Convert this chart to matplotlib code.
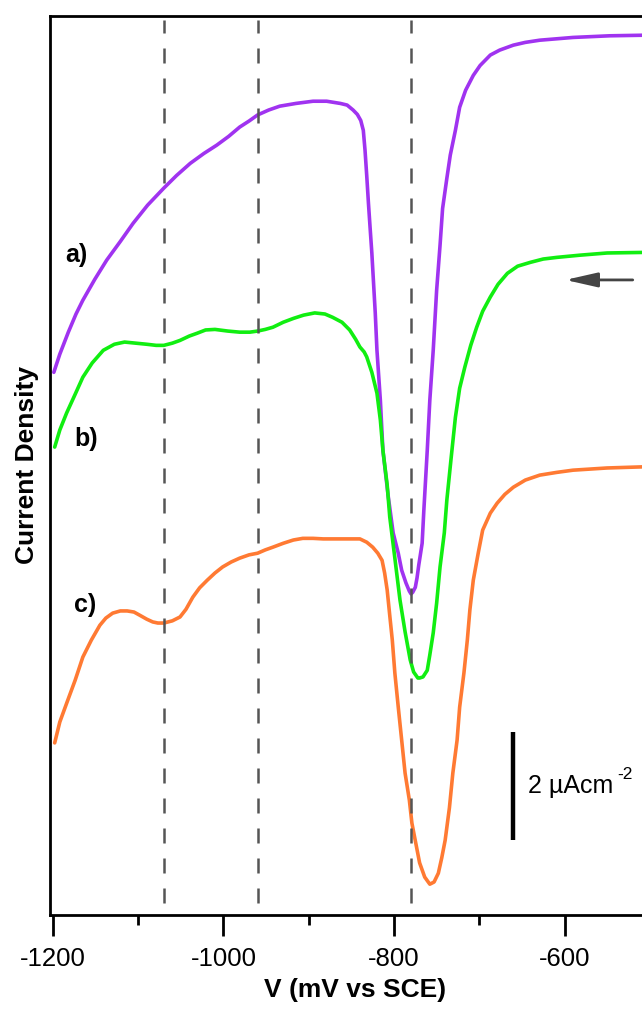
import matplotlib
matplotlib.use("Agg")
import matplotlib.pyplot as plt

plt.rcParams['font.family'] = ['Liberation Sans', 'DejaVu Sans']
plt.rcParams['axes.unicode_minus'] = False

# curve a) (purple)
volt_a = [-1199, -1192, -1182, -1173, -1165, -1151, -1137, -1121, -1106, -1089,
          -1070, -1055, -1039, -1023, -1008, -994, -981, -970, -960, -947,
          -934, -915, -895, -879, -863, -855, -848, -843, -839, -836,
          -834, -832, -830, -828, -826, -822, -820, -816, -813, -807,
          -801, -795, -791, -786, -782, -780, -778, -775, -773, -771,
          -767, -765, -761, -758, -754, -750, -746, -743, -738, -734,
          -728, -723, -716, -707, -699, -687, -676, -660, -646, -629,
          -590, -547, -509]
cur_a = [9.87, 10.20, 10.60, 10.93, 11.18, 11.56, 11.91, 12.25, 12.58, 12.91,
         13.22, 13.45, 13.67, 13.85, 14.0, 14.16, 14.33, 14.44, 14.55, 14.64,
         14.71, 14.76, 14.80, 14.80, 14.76, 14.73, 14.64, 14.56, 14.45, 14.27,
         13.91, 13.45, 12.95, 12.49, 12.04, 10.95, 10.27, 9.36, 8.45, 7.64,
         6.95, 6.58, 6.27, 6.04, 5.89, 5.84, 5.87, 5.96, 6.13, 6.36,
         6.76, 7.36, 8.45, 9.36, 10.27, 11.36, 12.18, 12.85, 13.4, 13.82,
         14.27, 14.69, 15.0, 15.27, 15.45, 15.64, 15.73, 15.82, 15.87, 15.91,
         15.96, 15.99, 16.0]

# curve b) (green)
volt_b = [-1198, -1192, -1184, -1174, -1165, -1154, -1141, -1128, -1116, -1103,
          -1090, -1079, -1070, -1060, -1051, -1040, -1031, -1021, -1010, -995,
          -981, -969, -960, -951, -942, -930, -918, -906, -893, -881,
          -872, -861, -852, -845, -840, -835, -832, -826, -820, -816,
          -813, -808, -805, -799, -793, -787, -781, -777, -772, -770,
          -766, -761, -758, -754, -750, -746, -741, -738, -733, -728,
          -723, -717, -710, -703, -696, -687, -678, -667, -655, -640,
          -625, -609, -582, -550, -509]
cur_b = [8.51, 8.82, 9.13, 9.47, 9.78, 10.04, 10.27, 10.38, 10.42, 10.40,
         10.38, 10.36, 10.36, 10.40, 10.45, 10.53, 10.58, 10.64, 10.65, 10.62,
         10.60, 10.60, 10.62, 10.65, 10.69, 10.78, 10.85, 10.91, 10.95, 10.93,
         10.87, 10.78, 10.64, 10.47, 10.33, 10.24, 10.15, 9.87, 9.49, 9.0,
         8.45, 7.82, 7.24, 6.49, 5.73, 5.15, 4.64, 4.42, 4.31, 4.31,
         4.33, 4.45, 4.73, 5.13, 5.67, 6.33, 6.95, 7.55, 8.31, 9.05,
         9.58, 9.96, 10.36, 10.69, 10.98, 11.24, 11.47, 11.67, 11.80, 11.87,
         11.93, 11.96, 12.0, 12.04, 12.05]

# curve c) (orange)
volt_c = [-1198, -1192, -1184, -1174, -1165, -1155, -1145, -1138, -1130, -1121,
          -1113, -1105, -1098, -1090, -1083, -1077, -1070, -1060, -1051, -1044,
          -1036, -1028, -1019, -1010, -1001, -991, -981, -970, -960, -951,
          -942, -930, -918, -907, -895, -883, -872, -856, -840, -832,
          -825, -819, -814, -811, -808, -805, -802, -799, -795, -791,
          -787, -782, -779, -774, -770, -764, -758, -753, -748, -744,
          -740, -735, -731, -726, -723, -718, -714, -711, -707, -701,
          -696, -687, -679, -670, -660, -646, -629, -609, -590, -550,
          -509]
cur_c = [3.13, 3.51, 3.85, 4.27, 4.69, 5.0, 5.27, 5.40, 5.49, 5.53,
         5.53, 5.51, 5.45, 5.38, 5.33, 5.31, 5.31, 5.35, 5.42, 5.56,
         5.78, 5.95, 6.09, 6.22, 6.33, 6.42, 6.49, 6.55, 6.58, 6.64,
         6.69, 6.76, 6.82, 6.85, 6.85, 6.84, 6.84, 6.84, 6.84, 6.78,
         6.69, 6.58, 6.45, 6.22, 5.91, 5.45, 5.0, 4.40, 3.78, 3.18,
         2.58, 2.09, 1.67, 1.27, 0.95, 0.69, 0.56, 0.60, 0.76, 1.04,
         1.36, 1.95, 2.58, 3.18, 3.78, 4.40, 5.0, 5.55, 6.09, 6.60,
         7.0, 7.31, 7.49, 7.65, 7.78, 7.91, 8.0, 8.05, 8.09, 8.13,
         8.15]

peak_lines = [-1070, -960, -780]
labels = ['a)', 'b)', 'c)']
label_pos = [(-1172, 12.0), (-1161, 8.65), (-1162, 5.64)]
colors = ['#a033f0', '#11ee11', '#ff7a33']

fig = plt.figure(figsize=(6.42, 10.10), dpi=100)
ax = fig.add_axes([50 / 642, 1 - 915 / 1010, 610 / 642, 899 / 1010])

for v, c, col in zip([volt_a, volt_b, volt_c], [cur_a, cur_b, cur_c], colors):
    ax.plot(v, c, color=col, lw=2.6, solid_joinstyle='round',
            solid_capstyle='round', zorder=2)

for x in peak_lines:
    ax.plot([x, x], [0.22, 16.27], color='#555555', lw=1.8,
            linestyle=(0, (6, 6)), zorder=3)

for lab, (x, y) in zip(labels, label_pos):
    ax.text(x, y, lab, fontsize=18, fontweight='bold', ha='center', va='center')

# scan direction arrow
ax.annotate('', xy=(-599, 11.55), xytext=(-520, 11.55),
            arrowprops=dict(arrowstyle='-|>,head_length=0.97,head_width=0.22',
                            color='#444444', lw=2, mutation_scale=20,
                            shrinkA=0, shrinkB=0))

# scale bar
ax.plot([-660, -660], [1.36, 3.33], color='black', lw=3.2, solid_capstyle='butt')
ax.text(-643, 2.22, '2 µAcm', fontsize=18, ha='left', va='baseline')
ax.text(-538, 2.47, '-2', fontsize=12.5, ha='left', va='baseline')

ax.set_xlim(-1203.5, -488)
ax.set_ylim(0, 16.35)
ax.set_xticks([-1200, -1000, -800, -600])
ax.set_xticks([-1100, -900, -700], minor=True)
ax.set_yticks([])
ax.tick_params(axis='x', which='major', direction='out', length=15, width=2,
               labelsize=18.5, pad=8)
ax.tick_params(axis='x', which='minor', direction='out', length=7.5, width=2)
for s in ax.spines.values():
    s.set_linewidth(2)

ax.set_xlabel('V (mV vs SCE)', fontsize=19, fontweight='bold', labelpad=5)
ax.set_ylabel('Current Density', fontsize=19, fontweight='bold')
ax.yaxis.set_label_coords(-0.018, 0.5)

fig.savefig('out.png', dpi=100)
